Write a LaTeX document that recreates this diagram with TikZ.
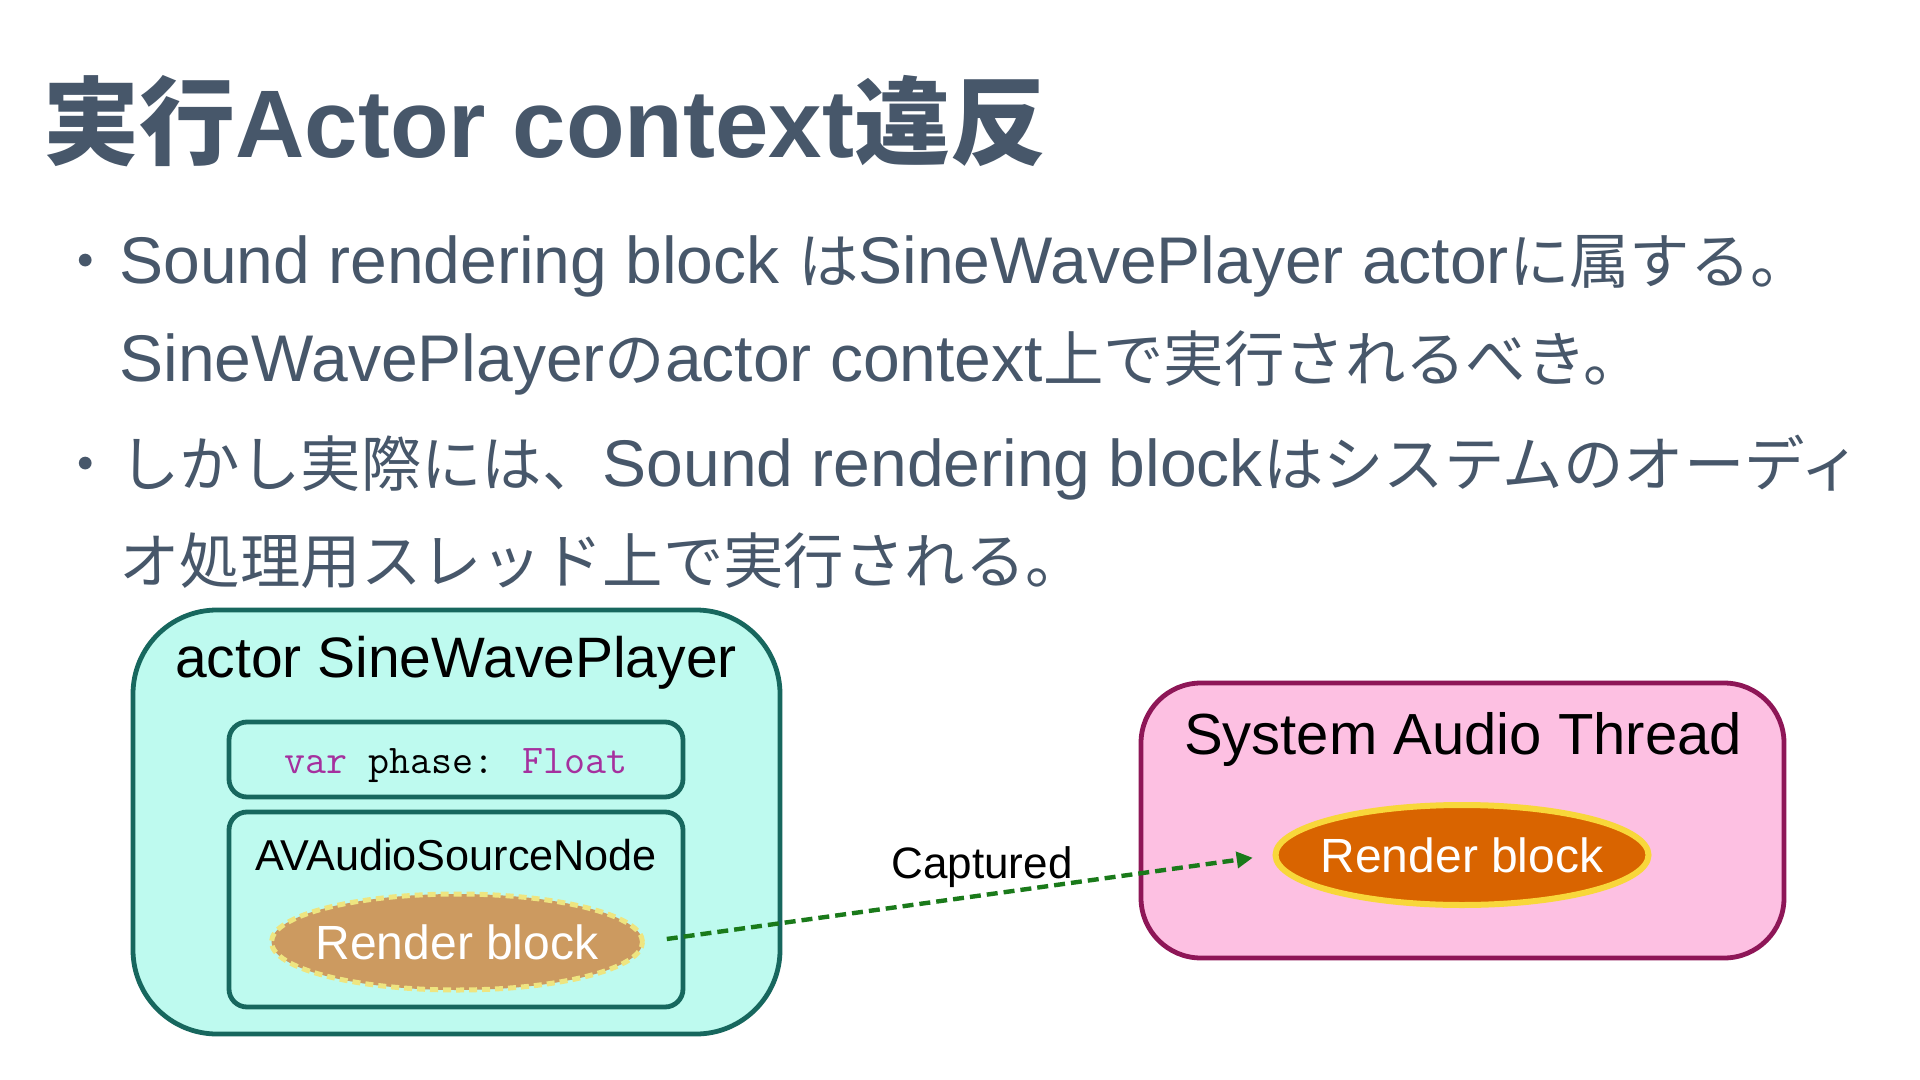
\documentclass[tikz,border=0pt]{standalone}
\usepackage{fontspec}
\setmainfont{Liberation Sans}
\newfontfamily\jpfont{Noto Sans CJK JP}
\usetikzlibrary{shapes.geometric,arrows.meta}
\definecolor{txt}{HTML}{47576A}
\definecolor{actorfill}{HTML}{BEFAEF}
\definecolor{actorline}{HTML}{17675E}
\definecolor{sysfill}{HTML}{FDC0E2}
\definecolor{sysline}{HTML}{8E1657}
\definecolor{tanfill}{HTML}{CC9A60}
\definecolor{tanline}{HTML}{EEE580}
\definecolor{orfill}{HTML}{D96400}
\definecolor{orline}{HTML}{F8D73A}
\definecolor{capgreen}{HTML}{1A7A1A}
\definecolor{kw}{HTML}{A5309E}
\newcommand\J[1]{{\jpfont\fontsize{30.2}{36}\selectfont #1}}
\newcommand\TJ[1]{{\jpfont\bfseries\fontsize{48}{57}\selectfont #1}}
\tikzset{
  bodytext/.style={anchor=base west, inner sep=0pt, text=txt, font=\fontsize{33}{40}\selectfont},
  bulletdot/.style={anchor=base, inner sep=0pt, text=txt},
  actorbox/.style={draw=actorline, fill=actorfill, line width=2.4pt, rounded corners=42pt, minimum width=323.5pt, minimum height=212pt, inner sep=0pt},
  innerbox/.style={draw=actorline, fill=actorfill, line width=2.4pt, rounded corners=9pt, minimum width=227pt, inner sep=0pt},
  sysbox/.style={draw=sysline, fill=sysfill, line width=2.4pt, rounded corners=30pt, minimum width=321.5pt, minimum height=137.5pt, inner sep=0pt},
  lbl/.style={anchor=base, inner sep=0pt, text=black},
  elltext/.style={anchor=center, inner sep=0pt, text=white, font=\fontsize{24}{28}\selectfont},
  tanell/.style={ellipse, draw=tanline, fill=tanfill, line width=2.5pt, dash pattern=on 4pt off 2.5pt, minimum width=185.5pt, minimum height=48pt, inner sep=0pt},
  orell/.style={ellipse, draw=orline, fill=orfill, line width=3pt, minimum width=186.5pt, minimum height=50pt, inner sep=0pt},
  captarrow/.style={draw=capgreen, line width=2.2pt, dash pattern=on 5.5pt off 3pt, -{Triangle[length=8pt,width=8pt]}, shorten <=11pt, shorten >=10pt}
}
\begin{document}
\begin{tikzpicture}[x=0.5pt,y=-0.5pt]
\useasboundingbox[fill=white] (0,0) rectangle (1920,1080);
% title
\node[anchor=base west, inner sep=0pt, text=txt, font=\bfseries\fontsize{48}{57}\selectfont] (title) at (43,158) {\TJ{実行}Actor context\TJ{違反}};
% bullets
\node[bulletdot] (b1) at (86,284) {\J{・}};
\node[bodytext] (l1) at (119,284) {Sound rendering block \J{は}SineWavePlayer actor\J{に属する。}};
\node[bodytext] (l2) at (119,381) {SineWavePlayer\J{の}actor context\J{上で実行されるべき。}};
\node[bulletdot] (b2) at (86,486) {\J{・}};
\node[bodytext] (l3) at (119,486) {\J{しかし実際には、}Sound rendering block\J{はシステムのオーディ}};
\node[bodytext] (l4) at (119,583) {\J{オ処理用スレッド上で実行される。}};
% actor box
\node[actorbox] (actor) at (456.5,822) {};
\node[lbl, font=\fontsize{28.5}{34}\selectfont] (actorlbl) at (456,677) {actor SineWavePlayer};
\node[innerbox, minimum height=37.5pt] (phase) at (456,759.5) {};
\node[lbl, font=\ttfamily\fontsize{20.4}{24}\selectfont] (phasetxt) at (456,773) {\textcolor{kw}{var} phase: \textcolor{kw}{Float}};
\node[innerbox, minimum height=97.5pt] (src) at (456,909.5) {};
\node[lbl, font=\fontsize{21.6}{26}\selectfont] (srclbl) at (456,870) {AVAudioSourceNode};
\node[tanell] (le) at (457,942) {};
\node[elltext] (letxt) at (le.center) {Render block};
% system box
\node[sysbox] (sys) at (1462.5,820.5) {};
\node[lbl, font=\fontsize{29}{35}\selectfont] (syslbl) at (1463,754) {System Audio Thread};
\node[orell] (re) at (1462,855) {};
\node[elltext] (retxt) at (re.center) {Render block};
% arrow
\draw[captarrow] (le.east) -- (re.west);
\node[lbl, font=\fontsize{22}{27}\selectfont] (cap) at (982,878) {Captured};
\end{tikzpicture}
\end{document}
